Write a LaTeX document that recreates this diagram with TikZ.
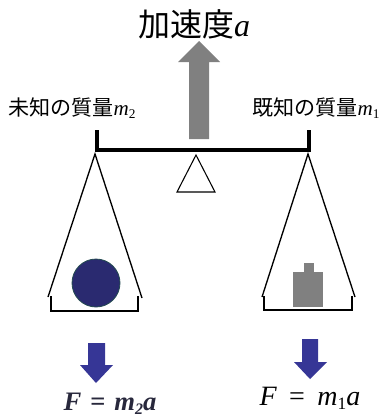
\documentclass[tikz,border=0pt]{standalone}
\usepackage{fontspec}
\setmainfont{Liberation Serif}
\newfontfamily\jpfont{Noto Sans CJK JP}
\newfontfamily\tmsfont{Liberation Serif}
\definecolor{liftgray}{RGB}{128,128,128}
\definecolor{forceblue}{RGB}{54,54,150}
\definecolor{ballnavy}{RGB}{42,42,112}
\definecolor{balledge}{RGB}{35,75,80}
\definecolor{formuladark}{RGB}{40,40,60}
% italic mass symbol with a lowered index
\newcommand\massof[2]{{\tmsfont\itshape m}\raisebox{-0.3ex}{\tmsfont\fontsize{#2}{#2}\selectfont #1}}
\begin{document}
\begin{tikzpicture}[x=0.75pt,y=-0.75pt,
  beam/.style={line width=2.3pt,line cap=butt},
  panline/.style={line width=1pt},
  label/.style={inner sep=0pt},
]
\useasboundingbox (0,0) rectangle (382,418);

% title and upward acceleration arrow
\node[label] (title) at (194,24) {\fontsize{24}{28}\selectfont\jpfont 加速度{\tmsfont\itshape a}};
\fill[liftgray] (189,139) -- (189,62) -- (178,62) -- (199,41) -- (220,62) -- (209,62) -- (209,139) -- cycle;

% mass labels above the beam ends
\node[label,anchor=west] (unknown) at (8,108) {\fontsize{15.8}{18}\selectfont\jpfont 未知の質量\massof{2}{10}};
\node[label,anchor=west] (known) at (252,108) {\fontsize{15.8}{18}\selectfont\jpfont 既知の質量\massof{1}{10}};

% beam with end posts
\coordinate (bl) at (97,150);
\coordinate (br) at (309,150);
\draw[beam] ([yshift=15]bl) -- (bl) -- (br) -- ([yshift=15]br);

% fulcrum
\draw[line width=0.8pt] (196,155) -- (215,192) -- (177,192) -- cycle;

% left pan
\coordinate (lp) at (95,154);
\draw[panline] (48,297) -- (lp) -- (142,298);
\draw[panline] (51,296) -- (51,311) -- (138,311) -- (138,296);
\filldraw[fill=ballnavy,draw=balledge,line width=0.6pt] (96,283) circle (24);

% right pan
\coordinate (rp) at (308,154);
\draw[panline] (262,297) -- (rp) -- (355,297);
\draw[panline] (264,296) -- (264,310) -- (352,310) -- (352,296);
\fill[liftgray] (293,272) rectangle (323,307);
\fill[liftgray] (304,263) rectangle (314,272);

% downward force arrows
\fill[forceblue] (88,343) -- (105,343) -- (105,365) -- (113,365) -- (96,383) -- (80,365) -- (88,365) -- cycle;
\fill[forceblue] (302,339) -- (318,339) -- (318,362) -- (327,362) -- (310,379) -- (294,362) -- (302,362) -- cycle;

% force formulas
\node[label,text=formuladark] (fleft) at (110,404) {\fontsize{20}{22}\selectfont\tmsfont\bfseries\itshape F\,\,=\,\,m\raisebox{-0.3ex}{\fontsize{12}{12}\selectfont 2}a};
\node[label] (fright) at (310,398) {\fontsize{21}{24}\selectfont\tmsfont\itshape F\;\,{\upshape =}\;\,m\raisebox{-0.3ex}{\upshape\fontsize{13}{13}\selectfont 1}a};
\end{tikzpicture}
\end{document}
